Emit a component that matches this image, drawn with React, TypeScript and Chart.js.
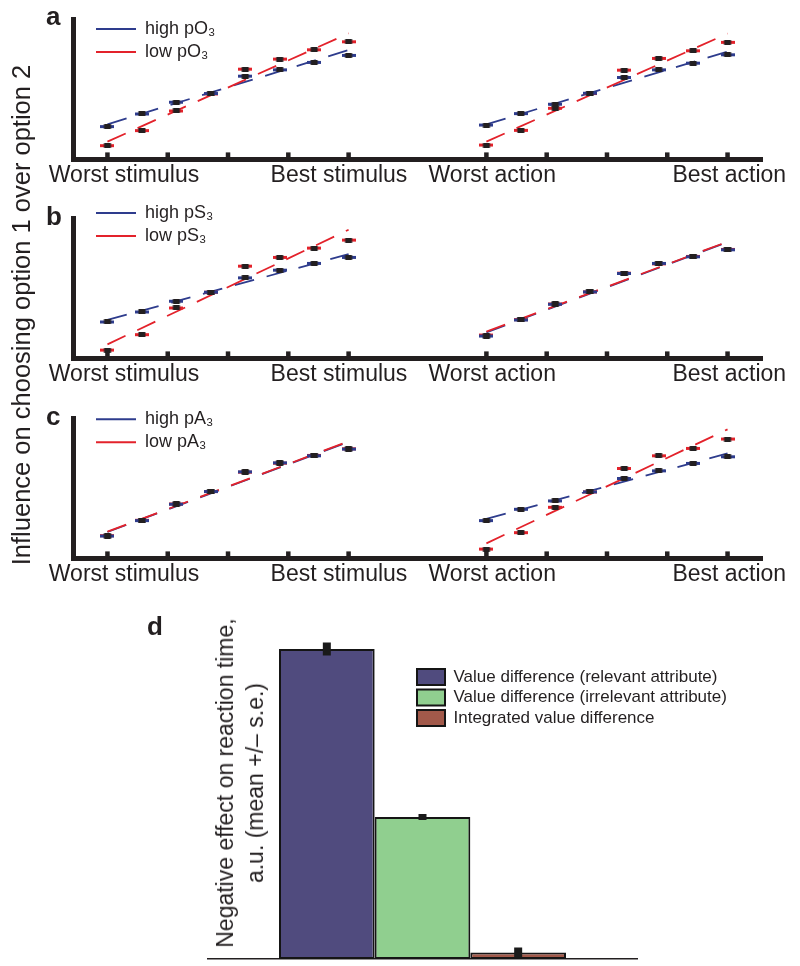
import React, { useEffect, useRef } from 'react';
import { Chart, registerables } from 'chart.js';

Chart.register(...registerables);

const FONT = '"Liberation Sans", Arial, Helvetica, sans-serif';
const INK = '#231f20';
const BLUE = '#2e3c8d';
const RED = '#e3222b';

Chart.defaults.font.family = FONT;

// ---- shared x layout (point index units) ----
const stimX = [1, 2, 3, 4, 5, 6, 7, 8];
const actionX = [12, 13, 14, 15, 16, 17, 18, 19];
const stimFitX = [1, 8];
const actionFitX = [12, 19];
const tickMarkValues = [1, 2.75, 4.5, 6.25, 8, 12, 13.75, 15.5, 17.25, 19];
const tickLabelValues = [1.48, 7.72, 12.17, 19.05];
const tickLabels = ['Worst stimulus', 'Best stimulus', 'Worst action', 'Best action'];

// ---- panel a (pO3) ----
const aStimHigh = [32.7, 45.3, 57.0, 65.7, 83.0, 89.3, 96.7, 103.7];
const aStimLow = [13.7, 28.7, 48.3, 65.3, 90.0, 100.0, 109.3, 117.3];
const aActHigh = [34.3, 45.7, 55.0, 66.0, 81.7, 89.3, 96.0, 104.3];
const aActLow = [14.3, 29.0, 51.0, 65.7, 89.0, 100.7, 108.3, 116.7];
const aStimHighFit = [35.0, 109.0];
const aStimLowFit = [17.7, 125.7];
const aActHighFit = [35.0, 107.5];
const aActLowFit = [17.7, 125.5];

// ---- panel b (pS3) ----
const bStimHigh = [36.3, 46.3, 57.0, 66.0, 80.3, 88.0, 94.7, 100.7];
const bStimLow = [8.3, 23.7, 50.3, 66.0, 92.0, 100.7, 110.0, 118.0];
const bActHigh = [22.3, 38.3, 54.0, 66.3, 84.7, 94.7, 101.3, 108.3];
const bActLow = [23.3, 38.7, 54.3, 66.3, 85.0, 94.3, 101.7, 108.7];
const bStimHighFit = [38.3, 104.0];
const bStimLowFit = [14.0, 128.3];
const bActHighFit = [26.0, 116.0];
const bActLowFit = [26.7, 116.3];

// ---- panel c (pA3) ----
const cStimHigh = [22.3, 37.7, 54.0, 66.7, 86.3, 95.3, 102.3, 109.0];
const cStimLow = [22.7, 38.0, 54.3, 66.7, 86.0, 95.0, 102.7, 109.3];
const cActHigh = [37.7, 49.0, 57.3, 66.3, 79.7, 87.3, 94.7, 101.3];
const cActLow = [9.3, 25.7, 51.0, 66.3, 89.7, 102.3, 109.7, 119.0];
const cStimHighFit = [26.3, 116.3];
const cStimLowFit = [26.7, 116.7];
const cActHighFit = [39.3, 104.7];
const cActLowFit = [15.0, 128.7];

// ---- panel d ----
const barLabels = [
  'Value difference (relevant attribute)',
  'Value difference (irrelevant attribute)',
  'Integrated value difference',
];
const barValues = [0.31, 0.142, 0.0065];
const barErrors = [0.0065, 0.003, 0.005];
const barColors = ['#504b7e', '#90cf8f', '#a2594a'];

// ---------------------------------------------------------------
function makeMarker(color: string) {
  const c = document.createElement('canvas');
  c.width = 14;
  c.height = 5;
  const ctx = c.getContext('2d')!;
  ctx.fillStyle = color;
  ctx.fillRect(0, 1, 14, 3);
  ctx.fillStyle = INK;
  ctx.fillRect(3.5, 0, 7, 5);
  return c;
}

const tickMarkPlugin = {
  id: 'tickMarks',
  afterDraw(chart: any) {
    const s = chart.scales.x;
    const ctx = chart.ctx;
    const b = chart.chartArea.bottom;
    ctx.save();
    ctx.fillStyle = INK;
    for (const t of s.ticks) {
      const px = s.getPixelForValue(t.value);
      ctx.fillRect(px - 2.25, b - 7, 4.5, 6);
    }
    ctx.restore();
  },
};

const legendShift = {
  id: 'legendShift',
  afterLayout(chart: any, _args: any, opts: any) {
    const lg = chart.legend;
    if (lg && opts && typeof opts.x === 'number') {
      lg.left = opts.x;
      lg.top = opts.y;
      lg.right = chart.width;
      lg.bottom = chart.height;
    }
  },
};

const errorBarPlugin = {
  id: 'errBars',
  afterDatasetsDraw(chart: any) {
    const y = chart.scales.y;
    const ctx = chart.ctx;
    ctx.save();
    ctx.fillStyle = '#1a1a1a';
    barValues.forEach((v, i) => {
      const el = chart.getDatasetMeta(i).data[0];
      if (!el) return;
      const t = y.getPixelForValue(v + barErrors[i]);
      const b = y.getPixelForValue(v - barErrors[i]);
      const h = Math.max(b - t, 6);
      ctx.fillRect(el.x - 4, (t + b) / 2 - h / 2, 8, h);
    });
    ctx.restore();
  },
};

type PanelSpec = {
  high: string;
  low: string;
  stimHigh: number[];
  stimLow: number[];
  actHigh: number[];
  actLow: number[];
  stimHighFit: number[];
  stimLowFit: number[];
  actHighFit: number[];
  actLowFit: number[];
  legendY: number;
};

const pts = (xs: number[], ys: number[]) => xs.map((x, i) => ({ x, y: ys[i] }));

function panelConfig(p: PanelSpec): any {
  const mHigh = makeMarker(BLUE);
  const mLow = makeMarker(RED);
  const marker = (xs: number[], ys: number[], m: HTMLCanvasElement) => ({
    data: pts(xs, ys),
    pointStyle: m,
    pointRadius: 5,
    showLine: false,
  });
  const fit = (xs: number[], ys: number[], color: string) => ({
    data: pts(xs, ys),
    borderColor: color,
    borderWidth: 1.8,
    borderDash: [20, 13],
    pointRadius: 0,
    showLine: true,
    fill: false,
  });
  return {
    type: 'scatter',
    data: {
      datasets: [
        marker(stimX, p.stimHigh, mHigh),
        marker(stimX, p.stimLow, mLow),
        marker(actionX, p.actHigh, mHigh),
        marker(actionX, p.actLow, mLow),
        fit(stimFitX, p.stimLowFit, RED),
        fit(actionFitX, p.actLowFit, RED),
        fit(stimFitX, p.stimHighFit, BLUE),
        fit(actionFitX, p.actHighFit, BLUE),
      ],
    },
    options: {
      responsive: false,
      animation: false,
      events: [],
      layout: { padding: { left: 73, right: 38, top: 19, bottom: 9 } },
      scales: {
        x: {
          type: 'linear',
          min: 0,
          max: 20,
          position: 'bottom',
          weight: 0,
          grid: { display: false, drawTicks: false },
          border: { display: true, width: 5, color: INK },
          ticks: { display: false },
          afterBuildTicks: (s: any) => {
            s.ticks = tickMarkValues.map((v) => ({ value: v }));
          },
        },
        x2: {
          type: 'linear',
          axis: 'x',
          min: 0,
          max: 20,
          position: 'bottom',
          weight: 1,
          grid: { display: false, drawTicks: false },
          border: { display: false },
          ticks: {
            display: true,
            padding: 2,
            autoSkip: false,
            maxRotation: 0,
            minRotation: 0,
            color: INK,
            font: { family: FONT, size: 23 },
            callback: (_v: any, i: number) => tickLabels[i] ?? '',
          },
          afterBuildTicks: (s: any) => {
            s.ticks = tickLabelValues.map((v) => ({ value: v }));
          },
        },
        y: {
          type: 'linear',
          min: 0,
          max: 140,
          grid: { display: false, drawTicks: false },
          border: { display: true, width: 5, color: INK },
          ticks: { display: false },
        },
      },
      plugins: {
        tooltip: { enabled: false },
        legendShift: { x: 91, y: p.legendY },
        legend: {
          display: true,
          position: 'chartArea',
          align: 'start',
          labels: {
            usePointStyle: true,
            pointStyleWidth: 40,
            padding: 5,
            color: INK,
            font: { family: FONT, size: 18 },
            generateLabels: () => [
              { text: p.high, strokeStyle: BLUE, fillStyle: BLUE, lineWidth: 2, pointStyle: 'line', hidden: false, datasetIndex: 6, fontColor: INK },
              { text: p.low, strokeStyle: RED, fillStyle: RED, lineWidth: 2, pointStyle: 'line', hidden: false, datasetIndex: 4, fontColor: INK },
            ],
          },
        },
      },
    },
    plugins: [tickMarkPlugin, legendShift],
  };
}

function barConfig(): any {
  return {
    type: 'bar',
    data: {
      labels: [''],
      datasets: barLabels.map((label, i) => ({
        label,
        data: [barValues[i]],
        backgroundColor: barColors[i],
        borderColor: '#151515',
        borderWidth: 2,
        borderSkipped: false,
        categoryPercentage: 0.669,
        barPercentage: 1,
      })),
    },
    options: {
      responsive: false,
      animation: false,
      events: [],
      layout: { padding: { left: 208, right: 163, top: 9, bottom: 7 } },
      scales: {
        x: {
          type: 'category',
          grid: { display: false, drawTicks: false },
          border: { display: true, width: 1.5, color: INK },
          ticks: { display: false },
        },
        y: { display: false, min: 0, max: 0.35 },
      },
      plugins: {
        tooltip: { enabled: false },
        legendShift: { x: 413.5, y: 65 },
        legend: {
          display: true,
          position: 'chartArea',
          align: 'start',
          labels: {
            boxWidth: 28,
            boxHeight: 16,
            padding: 3.5,
            color: INK,
            font: { family: FONT, size: 17 },
          },
        },
      },
    },
    plugins: [errorBarPlugin, legendShift],
  };
}

function ChartCanvas({ top, height, make }: { top: number; height: number; make: () => any }) {
  const ref = useRef<HTMLCanvasElement>(null);
  useEffect(() => {
    const chart = new Chart(ref.current as HTMLCanvasElement, make());
    return () => chart.destroy();
  }, []);
  return (
    <canvas
      ref={ref}
      width={800}
      height={height}
      style={{ position: 'absolute', left: 0, top, width: 800, height, display: 'block' }}
    />
  );
}

const panels: (PanelSpec & { top: number; letter: string })[] = [
  {
    letter: 'a', top: 0, high: 'high pO₃', low: 'low pO₃',
    stimHigh: aStimHigh, stimLow: aStimLow, actHigh: aActHigh, actLow: aActLow,
    stimHighFit: aStimHighFit, stimLowFit: aStimLowFit, actHighFit: aActHighFit, actLowFit: aActLowFit,
    legendY: 15,
  },
  {
    letter: 'b', top: 199, high: 'high pS₃', low: 'low pS₃',
    stimHigh: bStimHigh, stimLow: bStimLow, actHigh: bActHigh, actLow: bActLow,
    stimHighFit: bStimHighFit, stimLowFit: bStimLowFit, actHighFit: bActHighFit, actLowFit: bActLowFit,
    legendY: 0,
  },
  {
    letter: 'c', top: 399, high: 'high pA₃', low: 'low pA₃',
    stimHigh: cStimHigh, stimLow: cStimLow, actHigh: cActHigh, actLow: cActLow,
    stimHighFit: cStimHighFit, stimLowFit: cStimLowFit, actHighFit: cActHighFit, actLowFit: cActLowFit,
    legendY: 6.3,
  },
];

const letterStyle = (left: number, top: number): React.CSSProperties => ({
  position: 'absolute',
  left,
  top,
  font: `bold 26px ${FONT}`,
  lineHeight: 1,
  color: INK,
});

export default function App() {
  return (
    <div style={{ position: 'absolute', left: 0, top: 0, width: 800, height: 966, background: '#fff', overflow: 'hidden' }}>
      {panels.map((p) => (
        <ChartCanvas key={p.letter} top={p.top} height={200} make={() => panelConfig(p)} />
      ))}
      <ChartCanvas top={600} height={366} make={barConfig} />
      {panels.map((p) => (
        <div key={'l' + p.letter} style={letterStyle(46, p.top + 3 + (p.letter === 'a' ? 0 : 1))}>{p.letter}</div>
      ))}
      <div style={letterStyle(147, 613)}>d</div>
      <div
        style={{
          position: 'absolute', left: 22, top: 315,
          transform: 'translate(-50%, -50%) rotate(-90deg)',
          whiteSpace: 'nowrap', font: `25.5px ${FONT}`, lineHeight: 1, color: INK,
        }}
      >
        Influence on choosing option 1 over option 2
      </div>
      <div
        style={{
          position: 'absolute', left: 240, top: 783,
          transform: 'translate(-50%, -50%) rotate(-90deg)',
          whiteSpace: 'nowrap', font: `23px ${FONT}`, lineHeight: '30px', color: INK, textAlign: 'center',
        }}
      >
        Negative effect on reaction time,
        <br />
        a.u. (mean +/– s.e.)
      </div>
    </div>
  );
}
